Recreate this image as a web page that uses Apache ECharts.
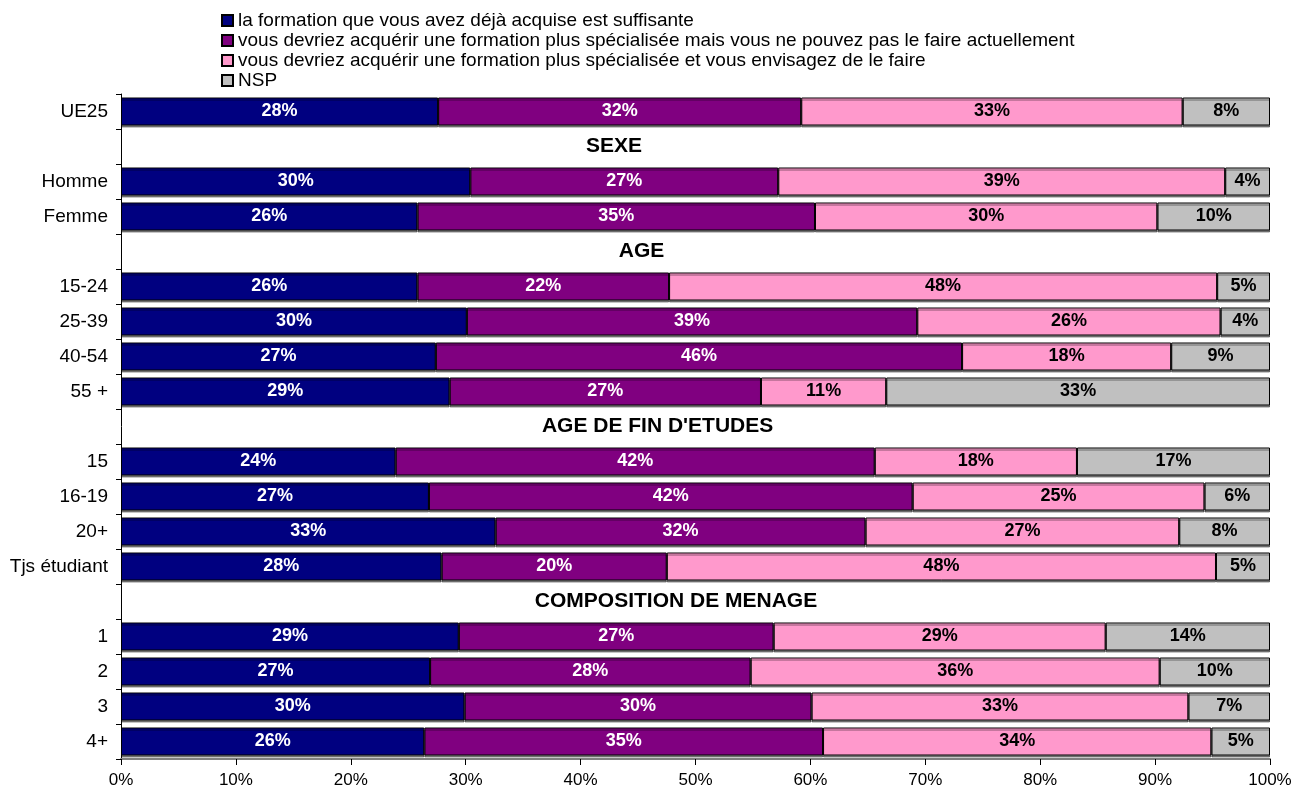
<!DOCTYPE html>
<html>
<head>
<meta charset="utf-8">
<title>Formation</title>
<script src="https://cdn.jsdelivr.net/npm/echarts@6/dist/echarts.min.js"></script>
<style>
  html, body { margin: 0; padding: 0; background: #fff; }
  #chart { width: 1309px; height: 791px; }
</style>
</head>
<body>
<div id="chart"></div>
<script>
// Rows of the chart, top to bottom; section headings carry no bars
const categories = ['UE25', 'SEXE', 'Homme', 'Femme', 'AGE', '15-24', '25-39', '40-54', '55 +',
  "AGE DE FIN D'ETUDES", '15', '16-19', '20+', 'Tjs étudiant',
  'COMPOSITION DE MENAGE', '1', '2', '3', '4+'];
const headings = ['SEXE', 'AGE', "AGE DE FIN D'ETUDES", 'COMPOSITION DE MENAGE'];

const seriesNames = [
  'la formation que vous avez déjà acquise est suffisante',
  'vous devriez acquérir une formation plus spécialisée mais vous ne pouvez pas le faire actuellement',
  'vous devriez acquérir une formation plus spécialisée et vous envisagez de le faire',
  'NSP'
];

// Shares in %, one value per row (null on heading rows)
const suffisante = [27.6, null, 30.4, 25.8, null, 25.8, 30.1, 27.4, 28.6, null, 23.9, 26.8, 32.6, 27.9, null, 29.4, 26.9, 29.9, 26.4];
const nePeutPas  = [31.6, null, 26.8, 34.6, null, 21.9, 39.2, 45.8, 27.1, null, 41.7, 42.1, 32.2, 19.6, null, 27.4, 27.9, 30.2, 34.7];
const envisage   = [33.2, null, 38.9, 29.8, null, 47.7, 26.4, 18.2, 10.9, null, 17.6, 25.4, 27.3, 47.8, null, 28.9, 35.6, 32.8, 33.8];
const nsp        = [7.6,  null, 3.9,  9.8,  null, 4.6,  4.3,  8.6,  33.4, null, 16.8, 5.7,  7.9,  4.7,  null, 14.3, 9.6,  7.1,  5.1];

const xTicks = [0, 10, 20, 30, 40, 50, 60, 70, 80, 90, 100];

// Horizontal placement of each section heading along the % axis
const headingX = [42.9, 45.3, 46.7, 48.3];

const colors = ['#000080', '#800080', '#FF99CC', '#C0C0C0'];
const labelColors = ['#ffffff', '#ffffff', '#000000', '#000000'];
const FONT = '"Liberation Sans", Arial, sans-serif';

const values = [suffisante, nePeutPas, envisage, nsp];

const barSeries = values.map((vals, i) => ({
  name: seriesNames[i],
  type: 'bar',
  stack: 'total',
  barWidth: 28,
  data: vals,
  itemStyle: {
    color: colors[i],
    borderColor: '#000000',
    borderWidth: 1,
    shadowColor: 'rgba(0,0,0,0.45)',
    shadowOffsetY: 2,
    shadowBlur: 0
  },
  label: {
    show: true,
    position: 'inside',
    color: labelColors[i],
    fontFamily: FONT,
    fontWeight: 'bold',
    fontSize: 18,
    formatter: p => (p.value == null ? '' : Math.round(p.value) + '%')
  },
  emphasis: { disabled: true }
}));

const headingSeries = {
  name: 'headings',
  type: 'scatter',
  symbolSize: 0,
  silent: true,
  itemStyle: { color: '#000000', opacity: 1 },
  data: headings.map((h, i) => ({ name: h, value: [headingX[i], h] })),
  label: {
    show: true,
    position: 'inside',
    formatter: '{b}',
    color: '#000000',
    opacity: 1,
    fontFamily: FONT,
    fontWeight: 'bold',
    fontSize: 21
  },
  emphasis: { disabled: true }
};

const chart = echarts.init(document.getElementById('chart'), null, { renderer: 'canvas' });
chart.setOption({
  animation: false,
  backgroundColor: '#ffffff',
  legend: {
    data: seriesNames,
    orient: 'vertical',
    left: 216,
    top: 6,
    itemWidth: 11,
    itemHeight: 11,
    itemGap: 1,
    icon: 'rect',
    selectedMode: false,
    itemStyle: { shadowColor: 'transparent', shadowOffsetY: 0 },
    textStyle: { fontFamily: FONT, fontSize: 19, color: '#000' }
  },
  grid: { left: 121, right: 39, top: 94, bottom: 32, containLabel: false },
  xAxis: {
    type: 'value',
    min: 0,
    max: 100,
    interval: 10,
    axisLine: { show: true, lineStyle: { color: '#808080', width: 2 } },
    axisTick: { show: true, length: 6, lineStyle: { color: '#000' } },
    splitLine: { show: false },
    axisLabel: {
      fontFamily: FONT, fontSize: 17, color: '#000', margin: 13,
      formatter: v => (xTicks.includes(v) ? v + '%' : '')
    }
  },
  yAxis: {
    type: 'category',
    inverse: true,
    data: categories,
    axisLine: { show: true, lineStyle: { color: '#000', width: 1 } },
    axisTick: { show: true, length: 5, inside: false, lineStyle: { color: '#000' } },
    axisLabel: {
      fontFamily: FONT, fontSize: 19, color: '#000', margin: 13,
      formatter: v => (headings.includes(v) ? '' : v)
    }
  },
  series: [...barSeries, headingSeries]
});
</script>
</body>
</html>
